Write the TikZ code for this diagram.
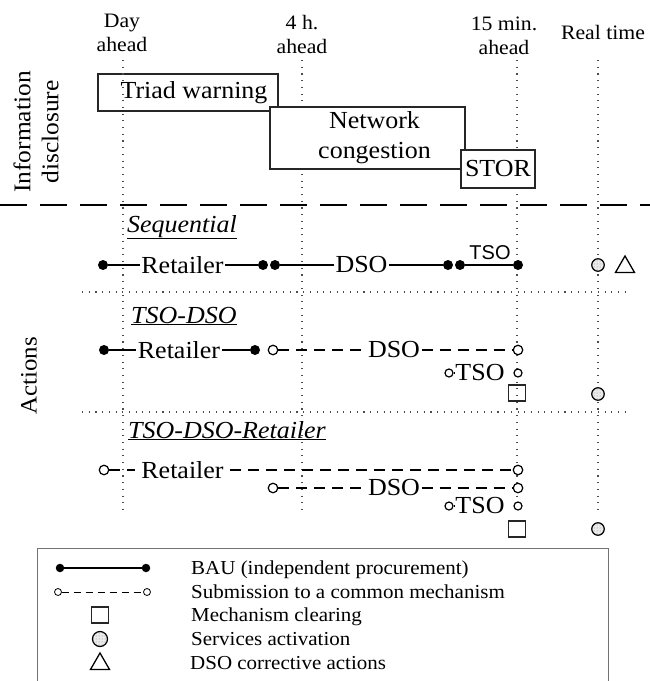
\documentclass[tikz,border=0pt]{standalone}
\usepackage{fontspec}
\setmainfont{Liberation Serif}[FakeStretch=1.06]
\newfontfamily\tsofont{Liberation Sans}
\usetikzlibrary{shapes.geometric,patterns}
\begin{document}
\begin{tikzpicture}[
  x=1pt, y=-1pt,
  toplbl/.style={align=center, inner sep=1pt, font=\fontsize{20.5}{24}\selectfont},
  infobox/.style={draw=black!85, line width=1.4pt, fill=white, align=center, inner sep=0pt, font=\fontsize{24.5}{30}\selectfont},
  sidelbl/.style={rotate=90, align=center, inner sep=0pt, font=\fontsize{24}{28}\selectfont},
  ttl/.style={anchor=base west, inner sep=0pt, font=\fontsize{24.5}{27}\selectfont\itshape},
  rowlbl/.style={inner sep=1.5pt, font=\fontsize{24.5}{27}\selectfont},
  tsosans/.style={anchor=base, inner sep=0pt, font=\tsofont\fontsize{20}{23}\selectfont},
  bau/.style={circle, fill=black, inner sep=0pt, minimum size=10pt},
  sub/.style={circle, draw=black, fill=white, line width=1.2pt, inner sep=0pt, minimum size=9.5pt},
  link/.style={line width=1.2pt},
  dlink/.style={line width=1.2pt, dash pattern=on 11pt off 7pt},
  clearbox/.style={draw=black!85, line width=1.6pt, inner sep=0pt, minimum width=17pt, minimum height=16pt},
  activ/.style={circle, draw=black, line width=1.2pt, inner sep=0pt, minimum size=12.5pt,
    preaction={fill=black!8}, pattern=dots, pattern color=black!50},
  corr/.style={regular polygon, regular polygon sides=3, draw=black, line width=1.3pt, inner sep=0pt, minimum size=22pt},
  guide/.style={black!70, line width=1.1pt, dash pattern=on 1.1pt off 5.6pt},
  legtxt/.style={anchor=base west, inner sep=0pt, font=\fontsize{19.8}{23}\selectfont}
]
  \useasboundingbox (0,0) rectangle (650,681);

  \node[toplbl] (tday) at (122,33) {Day\\ahead};
  \node[toplbl] (tfour) at (302,34) {4 h.\\ahead};
  \node[toplbl] (tfifteen) at (504,36) {15 min.\\ahead};
  \node[toplbl] (treal) at (603,32) {Real time};

  \node[infobox, minimum width=180pt, minimum height=37pt] (triad) at (188,92.5) {\hspace*{12pt}Triad warning};

  \foreach \x/\n in {123/day,302/four,517/fifteen,598/real} {
    \coordinate (g\n a) at (\x,60);
    \coordinate (g\n b) at (\x,512);
    \draw[guide] (g\n a) -- (g\n b);
  }

  \node[infobox, minimum width=195pt, minimum height=62pt] (netw) at (367.5,138) {\hspace*{14pt}Network\\\hspace*{14pt}congestion};
  \node[infobox, minimum width=74pt, minimum height=38pt] (stor) at (498,169) {STOR};

  \node[sidelbl] (info) at (36,132) {Information\\disclosure};

  \coordinate (dashl) at (0,205);
  \coordinate (dashr) at (650,205);
  \draw[line width=1.5pt, dash pattern=on 27pt off 13pt] (dashl) -- (dashr);

  \node[sidelbl, font=\fontsize{23.5}{28}\selectfont] (actions) at (29,376) {Actions};

  \coordinate (sepal) at (82,292);
  \coordinate (separ) at (630,292);
  \coordinate (sepbl) at (82,412);
  \coordinate (sepbr) at (630,412);
  \draw[guide] (sepal) -- (separ);
  \draw[guide] (sepbl) -- (sepbr);

  % sequential
  \node[ttl] (tseq) at (127,232) {\underline{Sequential}};
  \node[bau] (q1) at (103,265) {};
  \node[rowlbl] (qret) at (182.5,265) {Retailer};
  \node[bau] (q2) at (263,265) {};
  \node[bau] (q3) at (275,265) {};
  \node[rowlbl] (qdso) at (361.5,265) {DSO};
  \node[bau] (q4) at (448,265) {};
  \node[bau] (q5) at (460,265) {};
  \node[bau] (q6) at (518,265) {};
  \node[tsosans] (qtso) at (490,259) {TSO};
  \draw[link] (q1) -- (qret) -- (q2);
  \draw[link] (q3) -- (qdso) -- (q4);
  \draw[link] (q5) -- (q6);
  \node[activ] (qact) at (598,265) {};
  \node[corr] (qcorr) at (625,267) {};

  % TSO-DSO
  \node[ttl] (ttd) at (131,323) {\underline{TSO-DSO}};
  \node[bau] (p1) at (104,350) {};
  \node[rowlbl] (pret) at (179,350) {Retailer};
  \node[bau] (p2) at (255,350) {};
  \node[sub] (p3) at (273,350) {};
  \node[rowlbl] (pdso) at (394,350) {DSO};
  \node[sub] (p4) at (518,350) {};
  \node[sub, minimum size=8pt] (p5) at (449,373) {};
  \node[rowlbl] (ptso) at (480,373) {TSO};
  \node[sub, minimum size=8pt] (p6) at (518,373) {};
  \draw[link] (p1) -- (pret) -- (p2);
  \draw[dlink] (p3) -- (pdso) -- (p4);
  \draw[dlink] (p5) -- (ptso);
  \node[clearbox] (pclr) at (517,393) {};
  \node[activ] (pact) at (598,394) {};

  % TSO-DSO-Retailer
  \node[ttl] (ttdr) at (128,438) {\underline{TSO-DSO-Retailer}};
  \node[sub] (r1) at (104,470) {};
  \node[rowlbl, inner xsep=6pt] (rret) at (182.5,470) {Retailer};
  \node[sub] (r2) at (518,470) {};
  \node[sub] (r3) at (273,488) {};
  \node[rowlbl] (rdso) at (394,488) {DSO};
  \node[sub] (r4) at (518,488) {};
  \node[sub, minimum size=8pt] (r5) at (449,506) {};
  \node[rowlbl] (rtso) at (480,506) {TSO};
  \node[sub, minimum size=8pt] (r6) at (518,506) {};
  \draw[dlink] (r1) -- (rret) -- (r2);
  \draw[dlink] (r3) -- (rdso) -- (r4);
  \draw[dlink] (r5) -- (rtso);
  \node[clearbox] (rclr) at (517,529) {};
  \node[activ] (ract) at (598,529) {};

  % legend
  \draw[black!55, line width=0.9pt] (37,690) -- (37,548) -- (608,548) -- (608,690);
  \node[bau, minimum size=8.5pt] (l1a) at (60,568) {};
  \node[bau, minimum size=8.5pt] (l1b) at (146,568) {};
  \draw[link] (l1a) -- (l1b);
  \node[legtxt] (l1t) at (191,574) {BAU (independent procurement)};
  \node[sub, minimum size=7pt, line width=0.8pt] (l2a) at (58,592) {};
  \node[sub, minimum size=7pt, line width=0.8pt] (l2b) at (147,592) {};
  \draw[line width=0.9pt, dash pattern=on 7pt off 5pt] (l2a) -- (l2b);
  \node[legtxt] (l2t) at (191,598) {Submission to a common mechanism};
  \node[clearbox] (l3) at (100,615) {};
  \node[legtxt] (l3t) at (191,621) {Mechanism clearing};
  \node[activ, minimum size=15pt] (l4) at (100,639) {};
  \node[legtxt] (l4t) at (191,645) {Services activation};
  \node[corr] (l5) at (100,664) {};
  \node[legtxt] (l5t) at (190,669) {DSO corrective actions};
\end{tikzpicture}
\end{document}
